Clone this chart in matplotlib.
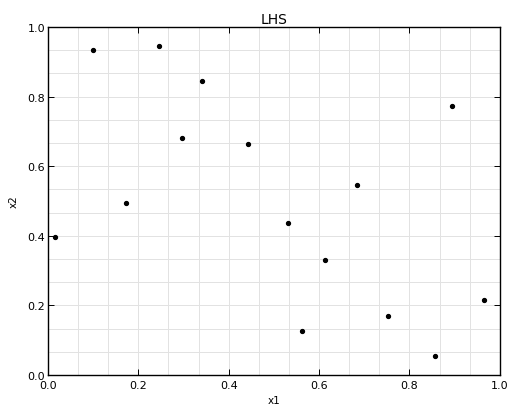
import numpy as np
import matplotlib
matplotlib.use("Agg")
import matplotlib.pyplot as plt
from matplotlib.ticker import FixedLocator, MultipleLocator

# LHS sample points
x1 = [0.016, 0.099, 0.172, 0.246, 0.297, 0.341, 0.442, 0.532,
      0.563, 0.614, 0.684, 0.752, 0.857, 0.894, 0.965]
x2 = [0.397, 0.934, 0.495, 0.946, 0.681, 0.845, 0.664, 0.437,
      0.126, 0.330, 0.546, 0.170, 0.054, 0.773, 0.216]

n = len(x1)
bins = np.linspace(0, 1, n + 1)

fig = plt.figure(figsize=(5.1, 4.06), dpi=100)
ax = fig.add_axes([0.094, 0.074, 0.886, 0.857])

ax.plot(x1, x2, 'o', color='black', markersize=2.8, zorder=3)

ax.set_xlim(0, 1)
ax.set_ylim(0, 1)
ax.xaxis.set_major_locator(MultipleLocator(0.2))
ax.yaxis.set_major_locator(MultipleLocator(0.2))
ax.xaxis.set_minor_locator(FixedLocator(bins))
ax.yaxis.set_minor_locator(FixedLocator(bins))

ax.grid(True, which='both', color='#e2e2e2', linewidth=0.7)
ax.set_axisbelow(True)

ax.tick_params(which='major', direction='in', length=4, width=0.7,
               top=True, right=True, labelsize=8)
ax.tick_params(axis='x', which='major', pad=3.5)
ax.tick_params(axis='y', which='major', pad=2)
ax.tick_params(which='minor', length=0)
for s in ax.spines.values():
    s.set_linewidth(1.0)

ax.set_title('LHS', fontsize=10, pad=3)
ax.set_xlabel('x1', fontsize=7.5, labelpad=4)
ax.set_ylabel('x2', fontsize=7.5, labelpad=6)

fig.savefig('out.png', dpi=100)
